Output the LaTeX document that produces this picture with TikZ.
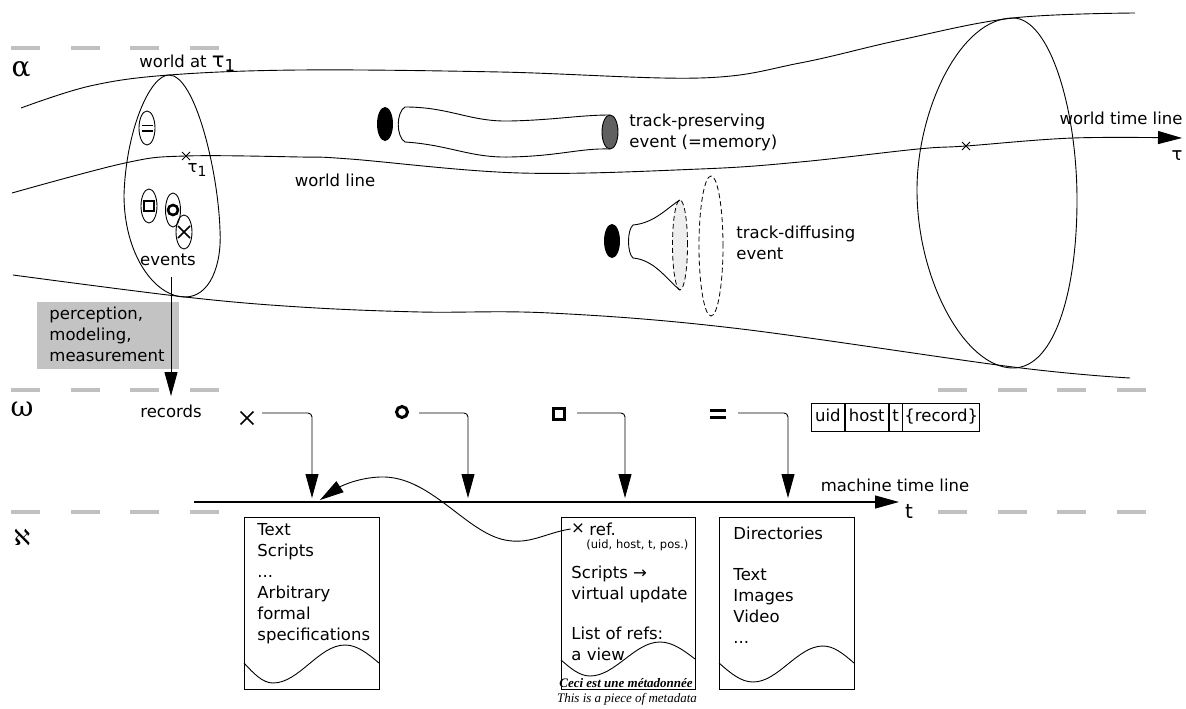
\documentclass[tikz,border=0pt]{standalone}
\usepackage{fontspec}
\setmainfont{DejaVu Sans}
\newfontfamily\grfont{DejaVu Serif}
\newfontfamily\alephfont{DejaVu Sans}
\newfontfamily\metafont{Liberation Serif}
\usetikzlibrary{arrows.meta}
\definecolor{dashgray}{RGB}{192,192,192}
\definecolor{boxgray}{RGB}{195,195,195}
\definecolor{tubegray}{RGB}{96,96,96}
\definecolor{lightfill}{RGB}{238,238,238}
\begin{document}
\begin{tikzpicture}[x=1pt,y=-1pt,line width=0.9pt,
  every node/.style={inner sep=0},
  txt/.style={font=\fontsize{16.5}{21}\selectfont},
  blk/.style={txt, align=left, anchor=west},
  gdash/.style={draw=dashgray, line width=3.5pt},
  tipped/.style={-{Triangle[length=24pt,width=13pt]}},
  cell/.style={draw, line width=0.8pt, minimum height=28pt, text height=12pt, text depth=4pt, anchor=west, txt},
  docbox/.style={draw, line width=1pt, minimum height=172pt, anchor=north west},
  dashell/.style={draw, dash pattern=on 5pt off 3pt, line width=0.8pt},
  sym/.style={line width=3pt}
]
\useasboundingbox (0,0) rectangle (1186,709);

% layer separators
\foreach \yy in {48,390,512}{\foreach \xx in {11,71,130,190}{\draw[gdash] (\xx,\yy) -- ++(29,0);}}
\foreach \yy in {390,512}{\foreach \xx in {938,998,1057,1117}{\draw[gdash] (\xx,\yy) -- ++(29,0);}}

% layer letters
\node[font=\grfont\fontsize{28}{28}\selectfont] (alpha) at (21,70) {α};
\node[font=\grfont\fontsize{28}{28}\selectfont] (omega) at (22,409) {ω};
\node[font=\alephfont\fontsize{22}{22}\selectfont] (aleph) at (22,537) {ℵ};

% world tube
\draw plot[smooth, tension=0.6] coordinates {(21,108) (90,86) (169,75) (300,70) (500,72) (700,78) (800,63) (900,40) (1013,18) (1135,13)};
\draw[tipped] plot[smooth, tension=0.6] coordinates {(12,193) (125,163) (185,156) (300,157) (350,159) (520,173) (700,169) (800,162) (918,149) (966,146) (1073,138) (1182,138)};
\draw plot[smooth, tension=0.6] coordinates {(13,275) (185,297) (300,307) (420,312) (550,313) (733,328) (1013,367) (1130,378)};

% world at tau1
\draw (169,75) .. controls (150,75) and (126,130) .. (124,195) .. controls (124,255) and (155,297) .. (185,297) .. controls (210,297) and (222,265) .. (220,230) .. controls (218,170) and (195,75) .. (169,75);
% big world ellipse
\draw (1013,18) .. controls (960,18) and (917,110) .. (917,190) .. controls (917,280) and (965,368) .. (1013,368) .. controls (1055,368) and (1077,290) .. (1077,200) .. controls (1077,110) and (1050,18) .. (1013,18);

% inner events
\draw (147,128) ellipse [x radius=8pt, y radius=17pt];
\draw[line width=1.8pt] (141.5,125.5) -- (152.5,125.5) (141.5,131) -- (152.5,131);
\draw (149,206) ellipse [x radius=8pt, y radius=17pt];
\draw[line width=2.6pt] (144,201) rectangle (154,211);
\draw (173,210) ellipse [x radius=7.5pt, y radius=17pt];
\draw[line width=2.6pt] (173,210) circle [radius=5pt];
\draw (184,232) ellipse [x radius=8pt, y radius=17pt];
\draw[line width=1.5pt] (178,226) -- (190,238) (178,238) -- (190,226);

% tau marks
\draw[line width=0.8pt] (182,152) -- (190,160) (182,160) -- (190,152);
\draw[line width=0.8pt] (962,142) -- (970,150) (962,150) -- (970,142);

% labels in world
\node[txt, anchor=west] (worldat) at (139,63) {world at {\fontsize{21}{21}\selectfont τ}\raisebox{-4pt}{1}};
\node[txt] (tau1lbl) at (197,170) {τ\raisebox{-4pt}{\fontsize{14}{14}\selectfont 1}};
\node[txt] (events) at (168,260) {events};
\node[txt] (worldline) at (335,180) {world line};
\node[txt] (wtl) at (1121,118) {world time line};
\node[font=\fontsize{18}{18}\selectfont] (taulbl) at (1177,156) {τ};

% track-preserving event
\fill (385,124) ellipse [x radius=8pt, y radius=17pt];
\draw (405,107) .. controls (396,112) and (396,137) .. (405,142);
\draw (405,107) .. controls (450,107) and (470,122) .. (510,121) .. controls (555,120) and (580,115) .. (610,115);
\draw (405,142) .. controls (450,145) and (470,158) .. (510,157) .. controls (560,156) and (580,148) .. (610,149);
\draw[fill=tubegray] (610,132) ellipse [x radius=8pt, y radius=17pt];
\node[blk] (tptxt) at (629,132) {track-preserving\\event (=memory)};

% track-diffusing event
\fill (612,241) ellipse [x radius=8pt, y radius=17pt];
\draw[dashell, fill=lightfill] (680,245) ellipse [x radius=7.5pt, y radius=45pt];
\draw (633,225) .. controls (627,230) and (627,253) .. (633,258);
\draw (633,225) .. controls (655,223) and (668,207) .. (680,200);
\draw (633,258) .. controls (655,260) and (667,280) .. (680,290);
\draw[dashell] (711,246) ellipse [x radius=12pt, y radius=70pt];
\node[blk] (tdtxt) at (736,243) {track-diffusing\\event};

% perception
\node[fill=boxgray, minimum width=142pt, minimum height=67pt, anchor=north west] (percbox) at (37,302) {};
\node[blk] (perctxt) at (49,334) {perception,\\modeling,\\measurement};
\coordinate (evbot) at (171,277);
\coordinate (rectip) at (171,396);
\draw[tipped] (evbot) -- (rectip);
\node[txt] (records) at (171,411) {records};

% records symbols
\node[minimum size=12pt] (recx) at (247,418) {};
\draw[line width=1.6pt] (recx.north west) -- (recx.south east) (recx.south west) -- (recx.north east);
\node[circle, draw, sym, minimum size=11pt] (reco) at (402,412) {};
\node[draw, sym, minimum size=11pt] (recsq) at (559,414) {};
\node[minimum width=15pt, minimum height=5.5pt] (receq) at (718,414) {};
\draw[sym] (receq.north west) -- (receq.north east) (receq.south west) -- (receq.south east);

\coordinate (s1) at (262,413); \coordinate (a1) at (312,498);
\coordinate (s2) at (419,413); \coordinate (a2) at (468,498);
\coordinate (s3) at (577,413); \coordinate (a3) at (625,498);
\coordinate (s4) at (738,413); \coordinate (a4) at (788,498);
\draw[tipped, rounded corners=4pt] (s1) -| (a1);
\draw[tipped, rounded corners=4pt] (s2) -| (a2);
\draw[tipped, rounded corners=4pt] (s3) -| (a3);
\draw[tipped, rounded corners=4pt] (s4) -| (a4);

% record format
\node[cell, minimum width=33pt] (uid) at (811,417) {uid};
\node[cell, minimum width=43pt] (host) at (uid.east) {host};
\node[cell, minimum width=13pt] (tcell) at (host.east) {t};
\node[cell, minimum width=77pt] (rec) at (tcell.east) {\{record\}};

% machine time line
\coordinate (mstart) at (194,502);
\coordinate (mend) at (899,502);
\draw[tipped, line width=1.1pt] (mstart) -- (mend);
\node[txt] (mtl) at (895,485) {machine time line};
\node[font=\fontsize{20}{20}\selectfont] (tlbl) at (909,511) {t};

% documents
\node[docbox, minimum width=135pt] (doc1) at (244,517) {};
\draw (244,663) sin (273,683) cos (309,664) sin (345,645) cos (379,663);
\node[blk] (doc1txt) at (257,584) {Text\\Scripts\\...\\Arbitrary\\formal\\specifications};

\node[docbox, minimum width=134pt] (doc2) at (561,517) {};
\draw (561,660) sin (590,676) cos (625,659) sin (660,642) cos (695,659);
\node[txt] (refx) at (578,529) {×};
\node[txt, anchor=west] (reflbl) at (589,529) {ref.};
\node[font=\fontsize{11.5}{14}\selectfont, anchor=west] (refuid) at (586,545) {(uid, host, t, pos.)};
\node[blk] (doc2txt) at (571,613) {Scripts →\\virtual update\\[19pt]List of refs:\\a view};
\node[font=\metafont\bfseries\itshape\fontsize{13}{13}\selectfont] (ceci) at (626,683) {Ceci est une métadonnée};
\node[font=\metafont\itshape\fontsize{13}{13}\selectfont] (thisis) at (627,699) {This is a piece of metadata};

\node[docbox, minimum width=135pt] (doc3) at (719,517) {};
\draw (719,663) sin (753,682) cos (788,664) sin (823,646) cos (854,663);
\node[blk] (doc3txt) at (733,585) {Directories\\[20pt]Text\\Images\\Video\\...};

% reference curve
\coordinate (curvetip) at (320,500);
\draw[tipped] (refx.west) .. controls (545,533) and (530,545) .. (505,540) .. controls (465,532) and (430,475) .. (380,477) .. controls (355,478) and (338,488) .. (curvetip);
\end{tikzpicture}
\end{document}
